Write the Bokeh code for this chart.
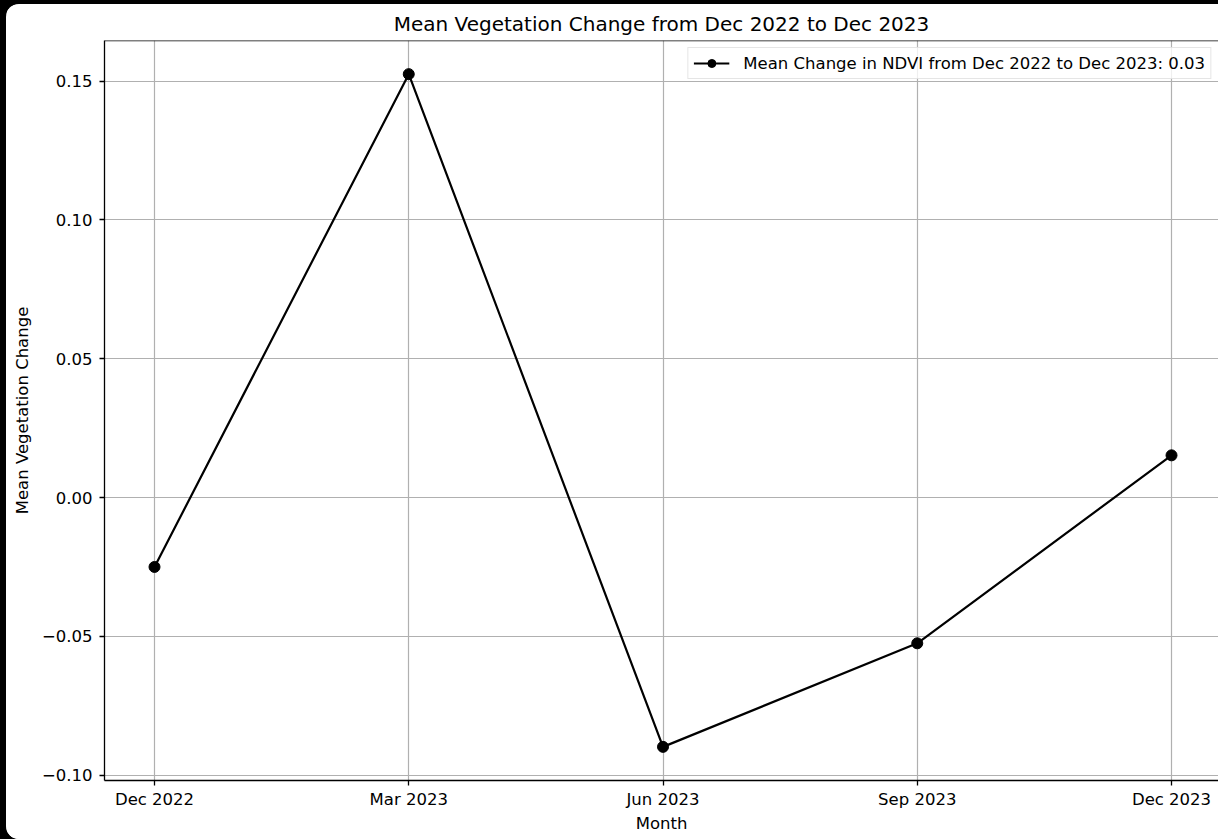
from bokeh.plotting import figure
from bokeh.models import (Range1d, FixedTicker, Legend, LegendItem, Span,
                          ColumnDataSource, InlineStyleSheet)
from bokeh.layouts import column
from bokeh.embed import file_html
from bokeh.resources import INLINE

# Monthly mean vegetation change (NDVI difference)
months = ["Dec 2022", "Mar 2023", "Jun 2023", "Sep 2023", "Dec 2023"]
mean_change = [-0.025, 0.1525, -0.0898, -0.0525, 0.0152]
overall_change = 0.03
y_ticks = [-0.10, -0.05, 0.00, 0.05, 0.10, 0.15]
y_tick_labels = ["\u22120.10", "\u22120.05", "0.00", "0.05", "0.10", "0.15"]

FONT = "DejaVu Sans"
GRID = "#b0b0b0"
TXT = "16.5px"

x_pos = list(range(len(months)))
source = ColumnDataSource(dict(x=x_pos, y=mean_change, month=months))

# 5% margins around the data, like the usual autoscale
span = max(mean_change) - min(mean_change)
y_lo = min(mean_change) - 0.05 * span
y_hi = max(mean_change) + 0.05 * span

card_css = (":host { border-top-left-radius: 13px; border-bottom-left-radius: 13px; "
            "border-top-right-radius: 0; border-bottom-right-radius: 0; "
            "overflow: hidden; background: white; }")
page_css = ":host { border-radius: 0; overflow: hidden; }"

p = figure(
    width=1212, height=835,
    output_backend="svg", toolbar_location=None,
    x_range=Range1d(-0.1967, 4.1848),
    y_range=Range1d(y_lo, y_hi),
    min_border_left=98, min_border_right=0,
    min_border_top=36, min_border_bottom=59,
    title="Mean Vegetation Change from Dec 2022 to Dec 2023",
    background_fill_color="white", border_fill_color="white",
    stylesheets=[InlineStyleSheet(css=card_css)],
)
p.outline_line_color = None

p.title.align = "center"
p.title.text_font = FONT
p.title.text_font_size = "20px"
p.title.text_font_style = "normal"
p.title.text_color = "black"

# x axis: one tick per month
p.xaxis.ticker = FixedTicker(ticks=x_pos)
p.xaxis.major_label_overrides = {i: m for i, m in zip(x_pos, months)}
p.xaxis.axis_label = "Month"

# y axis
p.yaxis.ticker = FixedTicker(ticks=y_ticks)
p.yaxis.major_label_overrides = {t: lab for t, lab in zip(y_ticks, y_tick_labels)}
p.yaxis.axis_label = "Mean Vegetation Change"

for ax in (p.xaxis, p.yaxis):
    ax.axis_label_text_font = FONT
    ax.axis_label_text_font_size = TXT
    ax.axis_label_text_font_style = "normal"
    ax.axis_label_text_color = "black"
    ax.major_label_text_font = FONT
    ax.major_label_text_font_size = TXT
    ax.major_label_text_color = "black"
    ax.axis_line_color = "black"
    ax.axis_line_width = 1.3
    ax.major_tick_line_color = "black"
    ax.major_tick_line_width = 1.3
    ax.major_tick_in = 0
    ax.major_tick_out = 5
    ax.minor_tick_line_color = None
p.xaxis.major_label_standoff = 4
p.xaxis.axis_label_standoff = 2
p.yaxis.major_label_standoff = 7
p.yaxis.axis_label_standoff = 7

# top spine along the upper edge of the frame
p.add_layout(Span(location=y_hi, dimension="width", line_color="black", line_width=1.6))

p.xgrid.grid_line_color = GRID
p.ygrid.grid_line_color = GRID
p.xgrid.grid_line_width = 1.2
p.ygrid.grid_line_width = 1.2

line_r = p.line("x", "y", source=source, line_color="black", line_width=2.2)
dots_r = p.scatter("x", "y", source=source, size=11, marker="circle",
                   fill_color="black", line_color="black")

legend = Legend(
    items=[LegendItem(label=f"Mean Change in NDVI from Dec 2022 to Dec 2023: {overall_change:.2f}",
                      renderers=[line_r, dots_r])],
    location="top_right", margin=7, padding=5, spacing=0,
    glyph_width=36, glyph_height=20, label_standoff=14,
    label_text_font=FONT, label_text_font_size=TXT, label_text_color="black",
    border_line_color="#cccccc", border_line_width=1,
    background_fill_color="white", background_fill_alpha=0.8,
)
p.add_layout(legend)

page = column(p, width=1218, height=839,
              styles={"background-color": "black", "padding-left": "6px", "padding-top": "4px",
                      "box-sizing": "border-box"},
              stylesheets=[InlineStyleSheet(css=page_css)])

open("out.html", "w").write(file_html(page, INLINE))
